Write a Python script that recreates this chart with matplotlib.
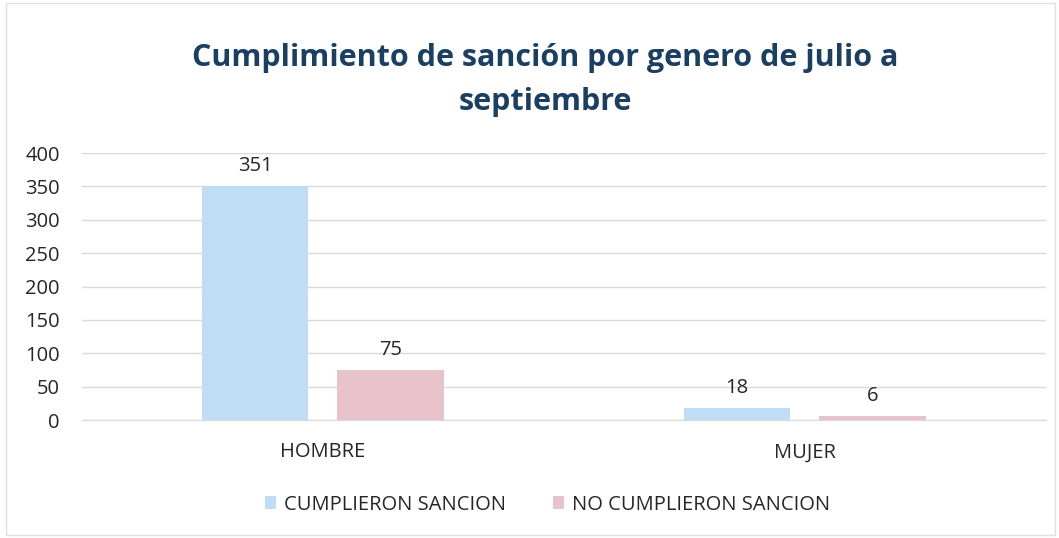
import matplotlib
matplotlib.use("Agg")
import matplotlib.pyplot as plt
import numpy as np
from matplotlib.patches import Rectangle

categories = ["HOMBRE", "MUJER"]
series_names = ["CUMPLIERON SANCION", "NO CUMPLIERON SANCION"]
cumplieron = [351, 18]
no_cumplieron = [75, 6]
yticks = [0, 50, 100, 150, 200, 250, 300, 350, 400]
title = "Cumplimiento de sanción por genero de julio a\nseptiembre"

colors = ["#BFDDF5", "#E8C3CB"]
font = "Open Sans"
fs = 14.5

fig = plt.figure(figsize=(10.59, 5.38), dpi=100)
fig.patch.set_facecolor("white")
ax = fig.add_axes([0.0774, 0.2193, 0.9100, 0.4963])

x = np.arange(len(categories))
w = 0.221
off = 0.1405
b1 = ax.bar(x - off, cumplieron, w, color=colors[0], label=series_names[0], zorder=3)
b2 = ax.bar(x + off, no_cumplieron, w, color=colors[1], label=series_names[1], zorder=3)

for bars, vals in ((b1, cumplieron), (b2, no_cumplieron)):
    for r, v in zip(bars, vals):
        ax.annotate(str(v), (r.get_x() + r.get_width() / 2, v), xytext=(0, 7),
                    textcoords="offset points", ha="center", va="bottom",
                    fontsize=fs, family=font, color="#262626")

ax.set_xlim(-0.5, 1.5)
ax.set_ylim(0, 400)
ax.set_yticks(yticks)
ax.set_yticklabels([str(t) for t in yticks], fontsize=fs, family=font, color="#262626")
ax.set_xticks(x)
ax.set_xticklabels(categories, fontsize=fs, family=font, color="#262626")
ax.tick_params(axis="both", length=0)
ax.tick_params(axis="x", pad=16)
ax.tick_params(axis="y", pad=16)
ax.grid(axis="y", color="#D9D9D9", linewidth=1, zorder=0)
for s in ["top", "right", "left"]:
    ax.spines[s].set_visible(False)
ax.spines["bottom"].set_color("#D9D9D9")
ax.set_facecolor("none")

fig.text(0.515, 0.851, title, ha="center", va="center", fontsize=22,
         fontweight="bold", family=font, color="#1B3F62", linespacing=1.6)

leg = fig.legend(loc="center", bbox_to_anchor=(0.517, 0.062), ncol=2, frameon=False,
                 prop={"family": font, "size": fs}, handlelength=0.55, handleheight=0.55,
                 handletextpad=0.4, columnspacing=2.3)
for t in leg.get_texts():
    t.set_color("#262626")

fig.patches.append(Rectangle((0.006, 0.005), 0.99, 0.99, transform=fig.transFigure,
                             fill=False, edgecolor="#E0E0E0", linewidth=1))

fig.savefig("out.png", dpi=100)
